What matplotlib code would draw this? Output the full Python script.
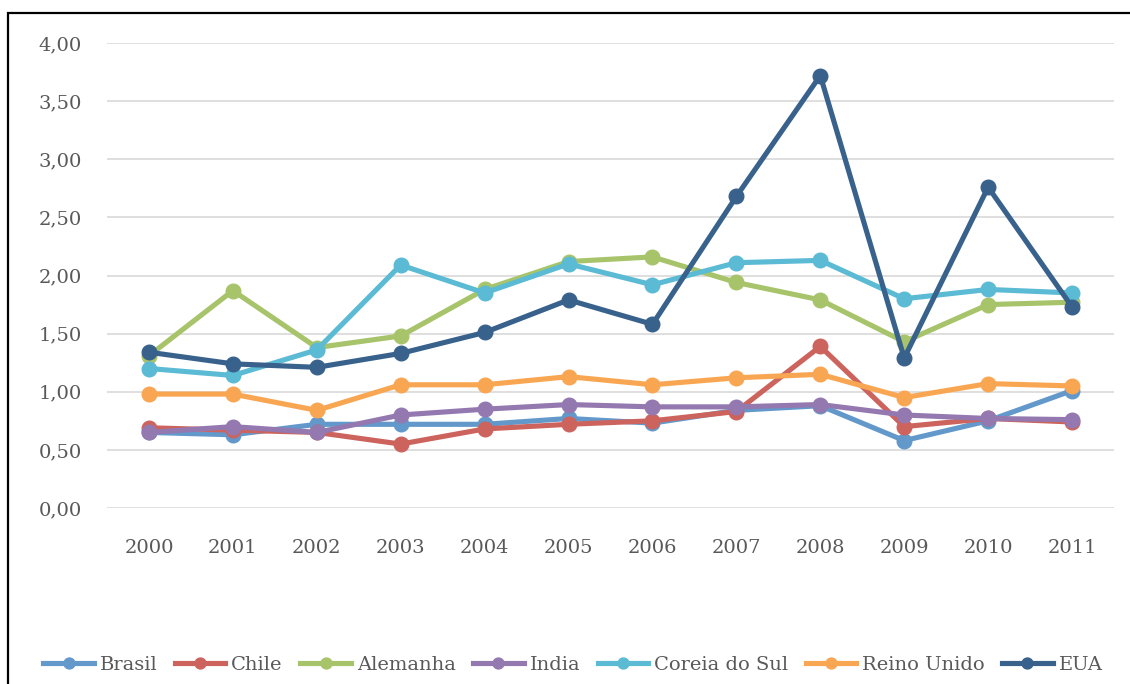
import matplotlib
matplotlib.use("Agg")
import matplotlib.pyplot as plt
from matplotlib.patches import Rectangle
from matplotlib.ticker import FuncFormatter

years = ["2000", "2001", "2002", "2003", "2004", "2005", "2006", "2007", "2008", "2009", "2010", "2011"]

brasil = [0.65, 0.63, 0.72, 0.72, 0.72, 0.77, 0.73, 0.84, 0.88, 0.58, 0.75, 1.01]
chile = [0.69, 0.67, 0.65, 0.55, 0.68, 0.72, 0.75, 0.83, 1.39, 0.70, 0.77, 0.74]
alemanha = [1.31, 1.87, 1.38, 1.48, 1.88, 2.12, 2.16, 1.94, 1.79, 1.43, 1.75, 1.77]
india = [0.65, 0.70, 0.65, 0.80, 0.85, 0.89, 0.87, 0.87, 0.89, 0.80, 0.77, 0.76]
coreia = [1.20, 1.14, 1.36, 2.09, 1.85, 2.10, 1.92, 2.11, 2.13, 1.80, 1.88, 1.85]
reino = [0.98, 0.98, 0.84, 1.06, 1.06, 1.13, 1.06, 1.12, 1.15, 0.95, 1.07, 1.05]
eua = [1.34, 1.24, 1.21, 1.33, 1.51, 1.79, 1.58, 2.68, 3.72, 1.29, 2.76, 1.73]

series_names = ["Brasil", "Chile", "Alemanha", "India", "Coreia do Sul", "Reino Unido", "EUA"]
series_values = [brasil, chile, alemanha, india, coreia, reino, eua]
colors = ["#6398CB", "#CD635D", "#A8C46B", "#9479B0", "#5BBAD4", "#F9A653", "#38628C"]

plt.rcParams['font.family'] = ['DejaVu Serif']

fig = plt.figure(figsize=(11.30, 6.84), dpi=100)
ax = fig.add_axes([107/1130, 1-508/684, (1114-107)/1130, (508-43)/684])

x = list(range(len(years)))
for name, vals, c in zip(series_names, series_values, colors):
    ax.plot(x, vals, color=c, linewidth=3.7, marker='o', markersize=10.5,
            markerfacecolor=c, markeredgecolor=c, label=name, solid_joinstyle='round')

ax.set_xlim(-0.5, len(years) - 0.5)
ax.set_ylim(0, 4)
ax.set_yticks([0, 0.5, 1, 1.5, 2, 2.5, 3, 3.5, 4])
ax.yaxis.set_major_formatter(FuncFormatter(lambda v, p: f"{v:.2f}".replace('.', ',')))
ax.set_xticks(x)
ax.set_xticklabels(years)
ax.grid(axis='y', color='#D9D9D9', linewidth=1.2)
ax.set_axisbelow(True)
for s in ax.spines.values():
    s.set_visible(False)
ax.tick_params(axis='both', length=0, labelsize=14, colors='#595959')
ax.tick_params(axis='y', pad=18)
ax.tick_params(axis='x', pad=22)

handles, labels = ax.get_legend_handles_labels()
leg = fig.legend(handles, labels, ncol=7, loc='center',
                 bbox_to_anchor=(0.507, 1 - 665/684), frameon=False,
                 fontsize=14, handlelength=2.6, columnspacing=0.9,
                 handletextpad=0.3, markerscale=0.75)
for t in leg.get_texts():
    t.set_color('#595959')

fig.patches.append(Rectangle((8/1130, -0.1), 1.2, 1 - 13/684 + 0.1,
                             transform=fig.transFigure, fill=False,
                             edgecolor='black', linewidth=1.6))

fig.savefig("out.png", dpi=100)
